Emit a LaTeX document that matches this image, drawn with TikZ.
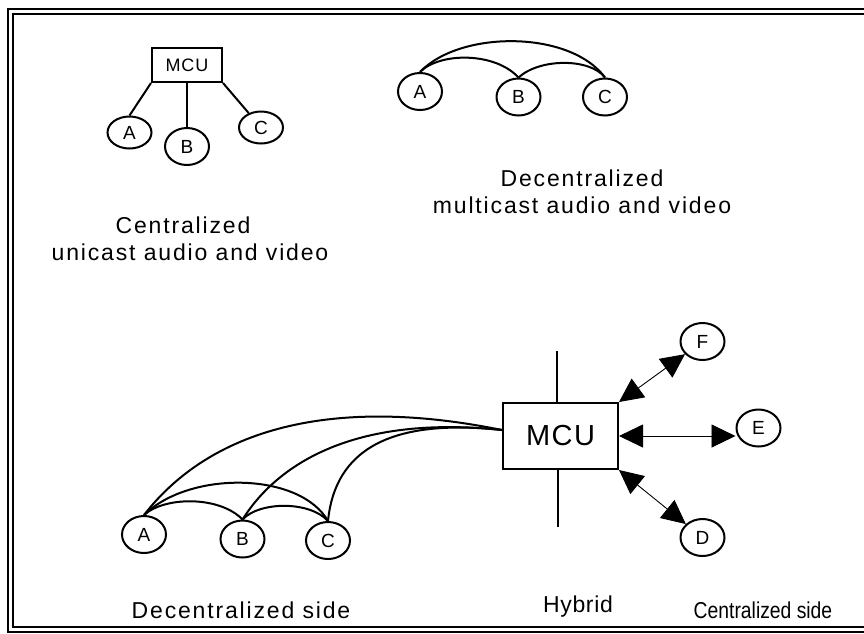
\documentclass[tikz,border=0pt]{standalone}
\usepackage{fontspec}
\setmainfont{Liberation Sans}
\newfontfamily\lsp[LetterSpace=8]{Liberation Sans}
\newfontfamily\lspb[LetterSpace=5]{Liberation Sans}
\newfontfamily\lsph[LetterSpace=3]{Liberation Sans}
\newfontfamily\cond[FakeStretch=0.84]{Liberation Sans}
\usetikzlibrary{arrows.meta,shapes.geometric}
\begin{document}
\begin{tikzpicture}[x=1pt,y=-1pt,line width=2pt,
  ell/.style={draw,ellipse,inner sep=0pt,minimum width=44pt,minimum height=37pt,font=\fontsize{19}{19}\selectfont},
  ellf/.style={ell,minimum height=32pt},
  mcubox/.style={draw,inner sep=0pt},
  lbl/.style={anchor=base,inner sep=0pt,font=\lsp\fontsize{23}{27}\selectfont},
  dbl/.style={line width=0.9pt,{Triangle[length=24pt,width=23pt]}-{Triangle[length=24pt,width=23pt]}}]
\useasboundingbox (0,0) rectangle (864,633);
\clip (0,0) rectangle (864,633);
% frame
\draw[line width=2pt] (8,9) rectangle (880,632);
\draw[line width=2pt] (13,14) rectangle (875,627);

% centralized
\node[mcubox,minimum width=70pt,minimum height=34pt,font=\lspb\fontsize{18}{18}\selectfont] (mcu1) at (187,65) {MCU};
\node[ellf] (A1) at (129.5,132.5) {A};
\node[ell] (B1) at (187,146.5) {B};
\node[ellf] (C1) at (261,127.5) {C};
\draw (mcu1.south west) -- (A1.north);
\draw (mcu1.south) -- (B1.north);
\draw (mcu1.south east) -- (C1);
\node[lbl] (t1) at (183,233) {Centralized};
\node[lbl] (t2) at (190,260) {unicast audio and video};

% decentralized top
\node[ell] (A2) at (420,91.5) {A};
\node[ell] (B2) at (518.5,97) {B};
\node[ell] (C2) at (605,97) {C};
\draw (A2.north) .. controls (440,52) and (495,52) .. (B2.north);
\draw (A2.north) .. controls (460,30) and (570,30) .. (C2.north);
\draw (B2.north) .. controls (540,58) and (590,58) .. (C2.north);
\node[lbl] (t3) at (582,186) {Decentralized};
\node[lbl] (t4) at (582,213) {multicast audio and video};

% hybrid
\node[mcubox,minimum width=115pt,minimum height=66pt,font=\lspb\fontsize{29}{29}\selectfont] (mcu3) at (560.5,436) {MCU};
\coordinate (vt) at (557,351);
\coordinate (vb) at (558,527);
\draw (vt) -- (vt |- mcu3.north);
\draw (vb) -- (vb |- mcu3.south);
\node[ell] (A3) at (144,534.5) {A};
\node[ell] (B3) at (242.5,539) {B};
\node[ell] (C3) at (328,540.5) {C};
\coordinate (mj) at ([yshift=6pt]mcu3.west);
\draw (A3.north) .. controls (165,496) and (220,496) .. (B3.north);
\draw (A3.north) .. controls (190,470) and (300,472) .. (C3.north);
\draw (B3.north) .. controls (260,501) and (310,501) .. (C3.north);
\draw (A3.north) .. controls (210,430) and (330,395) .. (mj);
\draw (B3.north) .. controls (280,460) and (360,415) .. (mj);
\draw (C3.north) .. controls (335,450) and (390,418) .. (mj);
\node[ell] (F) at (702.5,341.5) {F};
\node[ell] (E) at (758.5,428) {E};
\node[ell] (D) at (702.5,537.5) {D};
\draw[dbl] (mcu3.north east) -- (F);
\draw[dbl] (mcu3.east) -- (mcu3.east -| E.west);
\draw[dbl] (mcu3.south east) -- (D);
\node[lbl] (t5) at (241,618) {Decentralized side};
\node[lbl,font=\lsph\fontsize{23}{27}\selectfont] (t6) at (578,612) {Hybrid};
\node[lbl,font=\cond\fontsize{23}{27}\selectfont] (t7) at (763,618) {Centralized side};
\end{tikzpicture}
\end{document}
